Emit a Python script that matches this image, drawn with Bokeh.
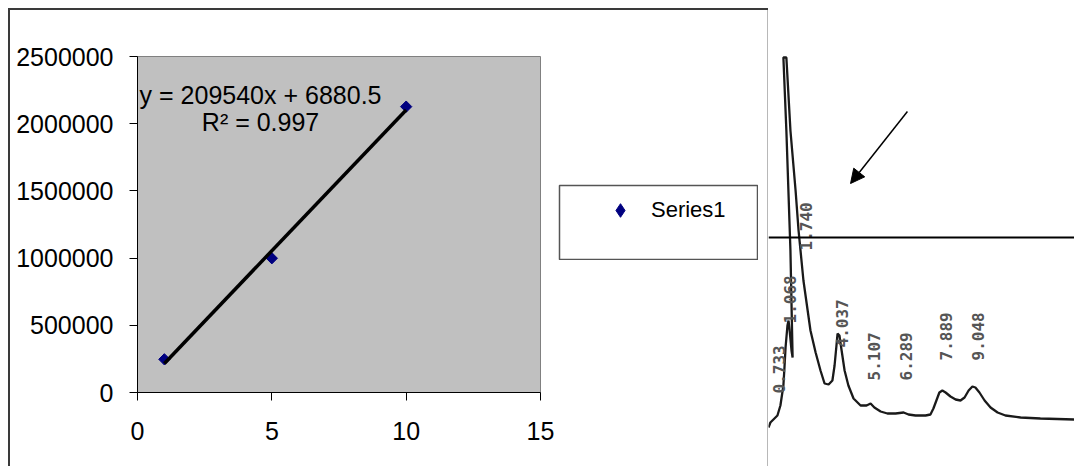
import numpy as np
from bokeh.plotting import figure
from bokeh.models import (Range1d, FixedTicker, NumeralTickFormatter, Label, Legend,
                          LegendItem, Span, Arrow, NormalHead)
from bokeh.embed import file_html
from bokeh.resources import INLINE
from bokeh.core.properties import value

# ---------------- data: calibration curve ----------------
conc = [1, 5, 10]
area = [247000, 999000, 2127000]
series_name = "Series1"
eq_text = "y = 209540x + 6880.5"
r2_text = "R\u00b2 = 0.997"
x_ticks = [0, 5, 10, 15]
y_ticks = [0, 500000, 1000000, 1500000, 2000000, 2500000]

# ---------------- data: chromatogram (time in min, signal) ----------------
trace_t = [1.50, 1.57, 1.83, 1.94, 2.05, 2.09, 2.13, 2.20, 2.24, 2.28,
           2.35, 2.39, 2.31, 2.16, 2.05, 2.16, 2.31, 2.50, 2.61, 2.79,
           3.05, 3.24, 3.42, 3.57, 3.72, 3.86, 3.94, 4.01, 4.05, 4.12,
           4.20, 4.31, 4.45, 4.64, 4.90, 5.12, 5.27, 5.41, 5.64, 5.89,
           6.19, 6.49, 6.67, 6.93, 7.30, 7.48, 7.59, 7.70, 7.81, 7.92,
           8.04, 8.22, 8.41, 8.59, 8.74, 8.89, 9.03, 9.14, 9.29, 9.48,
           9.70, 9.96, 10.25, 10.81, 11.54, 12.80]
trace_s = [9.75, 11, 12.75, 15.25, 20.25, 24.75, 29.75, 35.25, 36.5, 34,
           29, 27.25, 54, 84, 102.25, 102.25, 84, 69, 59, 46.5,
           34, 28.5, 24, 20.75, 20.5, 21.5, 25.25, 30.25, 33.25, 32.75,
           29, 24, 20.25, 17, 15.25, 15.25, 15.75, 14.75, 13.75, 13.25,
           13.25, 13.5, 13, 12.75, 12.75, 13, 14.5, 16.5, 18.5, 19,
           18.5, 17.5, 16.75, 16.5, 17.25, 19, 20, 19.75, 18.5, 16.5,
           14.75, 13.5, 12.75, 12.25, 12, 11.75]
peak_labels = ["0.733", "1.068", "1.740", "4.037", "5.107", "6.289", "7.889", "9.048"]
peak_label_t = [1.88, 2.28, 2.90, 4.20, 5.38, 6.56, 8.07, 9.22]
peak_label_s = [18.25, 35.75, 54, 29.75, 21.5, 21.5, 26.5, 26.5]
cut_level = 57.25
arrow_from = (6.63, 88.75)
arrow_to = (4.53, 70.75)

FONT = "Liberation Sans"

# ---------------- left: Excel-style calibration chart ----------------
p1 = figure(width=760, height=458, x_range=Range1d(0, 15), y_range=Range1d(0, 2500000),
            output_backend="svg", toolbar_location=None,
            min_border_left=129, min_border_right=228, min_border_top=48, min_border_bottom=74,
            background_fill_color="#C0C0C0", border_fill_color=None,
            outline_line_color="#808080", outline_line_width=1)
p1.styles = {"position": "absolute", "left": "8px", "top": "8px",
             "box-shadow": "inset 2px 2px 0 0 #3a3a3a, inset -1px 0 0 0 #b8b8b8"}
p1.grid.visible = False

for ax in (p1.xaxis[0], p1.yaxis[0]):
    ax.axis_line_color = "black"
    ax.axis_line_width = 1
    ax.major_tick_line_color = "black"
    ax.major_tick_out = 8
    ax.major_tick_in = 0
    ax.minor_tick_line_color = None
    ax.major_label_text_font = FONT
    ax.major_label_text_font_size = "25px"
    ax.major_label_text_color = "black"
p1.yaxis.major_label_standoff = 16
p1.xaxis.major_label_standoff = 21
p1.xaxis.ticker = FixedTicker(ticks=x_ticks)
p1.yaxis.ticker = FixedTicker(ticks=y_ticks)
p1.yaxis.formatter = NumeralTickFormatter(format="0")

p1.scatter(conc, area, marker="square", size=8, angle=0.785,
           fill_color="#000080", line_color="#000080")
slope, intercept = np.polyfit(conc, area, 1)
fx = [min(conc), max(conc)]
p1.line(fx, [slope * v + intercept for v in fx], line_color="black", line_width=3.5)

p1.add_layout(Label(x=4.58, y=2217000, text=eq_text, text_align="center", text_baseline="middle",
                    text_font=FONT, text_font_size="25px", text_color="black"))
p1.add_layout(Label(x=4.58, y=2016000, text=r2_text, text_align="center", text_baseline="middle",
                    text_font=FONT, text_font_size="25px", text_color="black"))

# ---------------- legend box (own small canvas, placed beside the plot area) ----------------
p3 = figure(width=200, height=76, x_range=Range1d(-20, -19), y_range=Range1d(-20, -19),
            output_backend="svg", toolbar_location=None, min_border=1,
            x_axis_location=None, y_axis_location=None,
            background_fill_color="white", border_fill_color=None,
            outline_line_color="#555555", outline_line_width=1.5)
p3.styles = {"position": "absolute", "left": "558px", "top": "184px"}
p3.grid.visible = False
leg_pts = p3.scatter(conc, area, marker="diamond", size=13,
                     fill_color="#000080", line_color="#000080")
legend = Legend(items=[LegendItem(label=series_name, renderers=[leg_pts])],
                location=(44, 32), padding=0, spacing=0, margin=0,
                glyph_width=34, glyph_height=34, label_height=34,
                label_standoff=14, label_text_font=FONT, label_text_font_size="22px",
                label_text_color="black", border_line_color=None,
                background_fill_alpha=0)
p3.add_layout(legend, "center")

# ---------------- right: scanned chromatogram ----------------
p2 = figure(width=306, height=458, x_range=Range1d(1.5, 12.8), y_range=Range1d(0, 114.5),
            output_backend="svg", toolbar_location=None, min_border=0,
            x_axis_location=None, y_axis_location=None,
            outline_line_color=None, background_fill_color="white", border_fill_color="white")
p2.styles = {"position": "absolute", "left": "768px", "top": "8px"}
p2.grid.visible = False
p2.line(trace_t, trace_s, line_color="#1a1a1a", line_width=2.3)
p2.text(x=peak_label_t, y=peak_label_s, text=peak_labels, angle=1.5708,
        text_align="left", text_baseline="middle", text_font=value("DejaVu Sans Mono"),
        text_font_size="16px", text_font_style="bold", text_color="#555555")
p2.add_layout(Span(location=cut_level, dimension="width", line_color="black", line_width=2))
p2.add_layout(Arrow(end=NormalHead(size=14, fill_color="black", line_color="black"),
                    x_start=arrow_from[0], y_start=arrow_from[1],
                    x_end=arrow_to[0], y_end=arrow_to[1],
                    line_color="black", line_width=1.5))

open("out.html", "w").write(file_html([p1, p3, p2], INLINE))
